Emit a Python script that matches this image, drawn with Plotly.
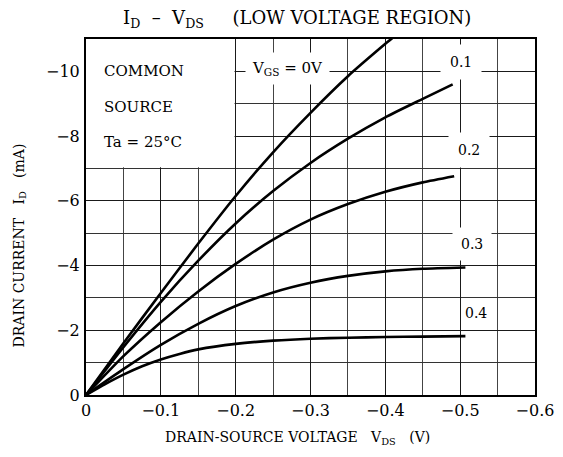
import plotly.graph_objects as go

# ---- data ----
vgs_labels = ["0V", "0.1", "0.2", "0.3", "0.4"]

vds_0 = [0, -0.05, -0.1, -0.15, -0.2, -0.25, -0.3, -0.35, -0.4, -0.412]
id_0 = [0, -1.6, -3.15, -4.68, -6.15, -7.5, -8.72, -9.85, -10.85, -11.08]

vds_1 = [0, -0.05, -0.1, -0.15, -0.2, -0.25, -0.3, -0.35, -0.4, -0.45, -0.49]
id_1 = [0, -1.48, -2.88, -4.15, -5.3, -6.3, -7.17, -7.92, -8.58, -9.15, -9.6]

vds_2 = [0, -0.05, -0.1, -0.15, -0.2, -0.25, -0.3, -0.35, -0.4, -0.45, -0.492]
id_2 = [0, -1.2, -2.25, -3.2, -4.05, -4.8, -5.42, -5.9, -6.28, -6.57, -6.76]

vds_3 = [0, -0.05, -0.1, -0.15, -0.2, -0.25, -0.3, -0.35, -0.4, -0.45, -0.507]
id_3 = [0, -0.8, -1.55, -2.2, -2.75, -3.17, -3.47, -3.68, -3.82, -3.9, -3.94]

vds_4 = [0, -0.025, -0.05, -0.075, -0.1, -0.125, -0.15, -0.2, -0.25, -0.3, -0.35, -0.4, -0.45, -0.507]
id_4 = [0, -0.33, -0.63, -0.89, -1.1, -1.27, -1.41, -1.58, -1.68, -1.74, -1.77, -1.79, -1.805, -1.82]

x_ticks = [0, -0.1, -0.2, -0.3, -0.4, -0.5, -0.6]
y_ticks = [0, -2, -4, -6, -8, -10]

FONT = "DejaVu Serif"

fig = go.Figure()
for xs, ys in [(vds_0, id_0), (vds_1, id_1), (vds_2, id_2), (vds_3, id_3), (vds_4, id_4)]:
    fig.add_trace(go.Scatter(x=xs, y=ys, mode="lines",
                             line=dict(color="black", width=2.6, shape="spline", smoothing=0.6),
                             showlegend=False, hoverinfo="skip"))

# white box in upper-left corner (hides grid behind the condition text)
fig.add_shape(type="rect", xref="x", yref="y", x0=0, x1=-0.1985, y0=-7.04, y1=-11,
              fillcolor="white", line=dict(width=0), layer="between")

for txt, yv in [("COMMON", -10.0), ("SOURCE", -8.9), ("Ta = 25°C", -7.83)]:
    fig.add_annotation(x=-0.022, y=yv, text=txt, showarrow=False, xanchor="left",
                       yanchor="middle", font=dict(family=FONT, size=15, color="black"))

# curve labels
fig.add_annotation(x=-0.269, y=-10.09, text="V<sub>GS</sub> = 0V", showarrow=False,
                   bgcolor="white", borderpad=6, font=dict(family=FONT, size=15, color="black"))
lab_pos = [(-0.501, -10.29, 9), (-0.512, -7.56, 9), (-0.516, -4.68, 8), (-0.521, -2.52, 1)]
for lbl, (xv, yv, pad) in zip(vgs_labels[1:], lab_pos):
    fig.add_annotation(x=xv, y=yv, text=lbl, showarrow=False, bgcolor="white",
                       borderpad=pad, font=dict(family=FONT, size=14, color="black"))

# titles
fig.add_annotation(xref="paper", yref="paper", x=0.47, y=1.0, yshift=20, yanchor="middle",
                   text="I<sub>D</sub>  –  V<sub>DS</sub>     (LOW VOLTAGE REGION)",
                   showarrow=False, font=dict(family=FONT, size=18, color="black"))
fig.add_annotation(xref="paper", yref="paper", x=0.47, y=0, yshift=-43, yanchor="middle",
                   text="DRAIN-SOURCE VOLTAGE   V<sub>DS</sub>   (V)",
                   showarrow=False, font=dict(family=FONT, size=14, color="black"))
fig.add_annotation(xref="paper", yref="paper", x=0, xshift=-66, xanchor="center", y=0.42,
                   text="DRAIN CURRENT   I<sub>D</sub>   (mA)", textangle=-90,
                   showarrow=False, font=dict(family=FONT, size=14, color="black"))

fig.update_xaxes(range=[0, -0.6], tickvals=x_ticks,
                 ticktext=["0" if v == 0 else "−" + f"{abs(v):.1f}" for v in x_ticks],
                 showgrid=True, gridcolor="#1a1a1a", gridwidth=1.3,
                 minor=dict(tickvals=[-0.05, -0.15, -0.25, -0.35, -0.45, -0.55], showgrid=True,
                            gridcolor="#444", gridwidth=1),
                 showline=True, linecolor="black", linewidth=2, mirror=True,
                 ticks="", zeroline=False, tickfont=dict(family=FONT, size=16, color="black"))
fig.update_yaxes(range=[0, -11], tickvals=y_ticks,
                 ticktext=["0" if v == 0 else "−" + str(abs(v)) for v in y_ticks],
                 showgrid=True, gridcolor="#1a1a1a", gridwidth=1.3,
                 minor=dict(tickvals=[-1, -3, -5, -7, -9], showgrid=True,
                            gridcolor="#333", gridwidth=1.2),
                 showline=True, linecolor="black", linewidth=2, mirror=True,
                 ticks="", ticklabelstandoff=1, zeroline=False,
                 tickfont=dict(family=FONT, size=16, color="black"))

# page body adds an 8px offset; margins compensate so the plot sits where the reference has it
fig.update_layout(width=563, height=457, margin=dict(l=78, r=36, t=31, b=70),
                  plot_bgcolor="white", paper_bgcolor="white")
fig.write_html("out.html")
